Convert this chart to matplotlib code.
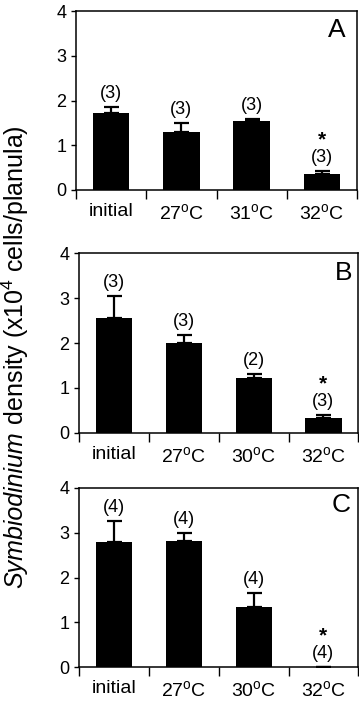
import matplotlib
matplotlib.use("Agg")
import matplotlib.pyplot as plt
import numpy as np

plt.rcParams['font.family'] = ['Liberation Sans', 'DejaVu Sans']
plt.rcParams['mathtext.fontset'] = 'custom'
plt.rcParams['mathtext.rm'] = 'Liberation Sans'
plt.rcParams['mathtext.it'] = 'Liberation Sans:italic'

# data
labels_a = ['initial', '27$^\\mathregular{o}$C', '31$^\\mathregular{o}$C', '32$^\\mathregular{o}$C']
labels_bc = ['initial', '27$^\\mathregular{o}$C', '30$^\\mathregular{o}$C', '32$^\\mathregular{o}$C']

dens_a = [1.72, 1.29, 1.55, 0.36]
err_a = [0.13, 0.20, 0.04, 0.06]
n_a = [3, 3, 3, 3]

dens_b = [2.55, 1.99, 1.21, 0.33]
err_b = [0.50, 0.18, 0.10, 0.07]
n_b = [3, 3, 2, 3]

dens_c = [2.79, 2.81, 1.35, 0.0]
err_c = [0.46, 0.18, 0.31, 0.0]
n_c = [4, 4, 4, 4]

signif = [False, False, False, True]

panels = [
    ("A", labels_a, dens_a, err_a, n_a, [76 / 359, 1 - 190 / 701, 281 / 359, 179 / 701], 0.929, 0.856),
    ("B", labels_bc, dens_b, err_b, n_b, [79.3 / 359, 1 - 432.7 / 701, 279 / 359, 179.4 / 701], 0.949, 0.851),
    ("C", labels_bc, dens_c, err_c, n_c, [79.3 / 359, 1 - 667.3 / 701, 279 / 359, 179.6 / 701], 0.937, 0.862),
]

fig = plt.figure(figsize=(3.59, 7.01), dpi=100)

for letter, labels, dens, err, ns, rect, lx, ly in panels:
    ax = fig.add_axes(rect)
    x = np.arange(len(dens))
    ax.bar(x, dens, width=0.52, color='black', edgecolor='none',
           yerr=[np.zeros(len(err)), err], capsize=5.4,
           error_kw=dict(elinewidth=1.6, capthick=1.6, ecolor='black'))
    for xi, d, e, n, s in zip(x, dens, err, ns, signif):
        ax.annotate(f"({n})", (xi, d + e), xytext=(0, 3.6), textcoords='offset points',
                    ha='center', va='bottom', fontsize=13)
        if s:
            ax.annotate("*", (xi, d + e), xytext=(0, 18.5), textcoords='offset points',
                        ha='center', va='baseline', fontsize=15, fontweight='bold')
    ax.set_xlim(-0.5, 3.5)
    ax.set_ylim(0, 4)
    ax.set_yticks([0, 1, 2, 3, 4])
    ax.tick_params(axis='y', direction='out', length=3.6, width=1, labelsize=13, pad=3.5)
    ax.set_xticks(np.arange(-0.5, 4, 1))
    ax.set_xticklabels([])
    ax.set_xticks(x, minor=True)
    ax.set_xticklabels(labels, minor=True, fontsize=14)
    ax.tick_params(axis='x', which='major', direction='out', length=6.5, width=1)
    ax.tick_params(axis='x', which='minor', length=0, pad=9.5)
    for sp in ax.spines.values():
        sp.set_linewidth(1.1)
    ax.text(lx, ly, letter, transform=ax.transAxes, ha='center', va='baseline', fontsize=19)

# y label: italic genus name followed by regular text, laid end to end
fig.canvas.draw()
renderer = fig.canvas.get_renderer()
ylab_x = 15 / 359
ylab_start = 1 - 588 / 701
t1 = fig.text(ylab_x, ylab_start, 'Symbiodinium', style='italic', fontsize=18,
              rotation=90, rotation_mode='anchor', ha='left', va='center')
bb = t1.get_window_extent(renderer)
y_next = ylab_start + bb.height / fig.bbox.height
fig.text(ylab_x, y_next, ' density (x10$^{4}$ cells/planula)', fontsize=18,
         rotation=90, rotation_mode='anchor', ha='left', va='center')

fig.savefig("out.png", dpi=100)
